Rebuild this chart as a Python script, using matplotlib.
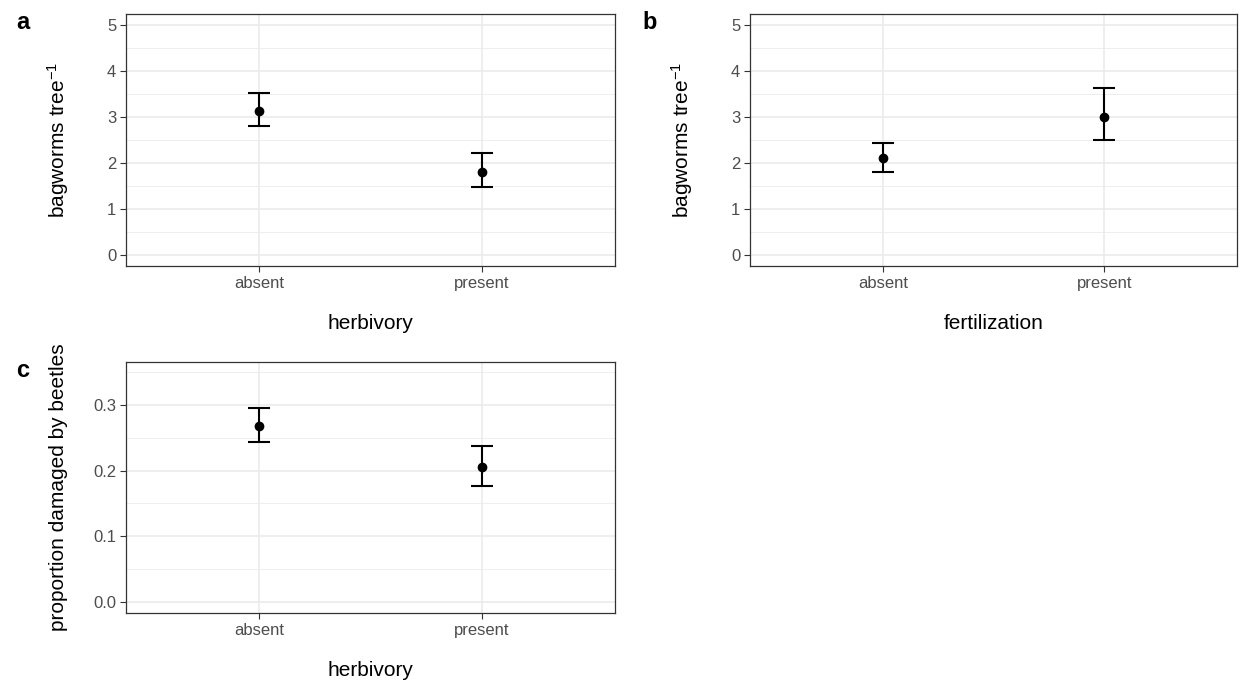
import numpy as np
import matplotlib.pyplot as plt
from matplotlib.ticker import MultipleLocator

plt.rcParams['font.family'] = ['Liberation Sans', 'DejaVu Sans']
plt.rcParams['mathtext.default'] = 'regular'

levels = ['absent', 'present']

# panel a: bagworms by herbivory
herb_mean = [3.14, 1.80]
herb_low = [2.81, 1.47]
herb_high = [3.52, 2.21]

# panel b: bagworms by fertilization
fert_mean = [2.10, 3.00]
fert_low = [1.81, 2.49]
fert_high = [2.43, 3.63]

# panel c: beetle damage by herbivory
beet_mean = [0.269, 0.206]
beet_low = [0.244, 0.177]
beet_high = [0.296, 0.238]


def panel(ax, mean, low, high, xlabel, ylabel, ylim, major, minor):
    x = np.arange(1, len(levels) + 1)
    mean = np.array(mean)
    err = [mean - np.array(low), np.array(high) - mean]
    ax.errorbar(x, mean, yerr=err, fmt='o', color='black', ms=6,
                elinewidth=1.5, capsize=8, capthick=1.5, zorder=3)
    ax.set_xlim(0.4, 2.6)
    ax.set_ylim(*ylim)
    ax.set_xticks(x)
    ax.set_xticklabels(levels)
    ax.yaxis.set_major_locator(MultipleLocator(major))
    ax.yaxis.set_minor_locator(MultipleLocator(minor))
    ax.grid(True, which='major', color='#EBEBEB', lw=1.2, zorder=0)
    ax.grid(True, which='minor', axis='y', color='#EBEBEB', lw=0.6, zorder=0)
    ax.tick_params(which='major', labelsize=12, labelcolor='#4D4D4D',
                   color='#333333', length=4, width=0.8, pad=3)
    ax.tick_params(which='minor', length=0)
    for s in ax.spines.values():
        s.set_color('#333333')
        s.set_linewidth(0.9)
    ax.set_axisbelow(True)
    ax.set_xlabel(xlabel, fontsize=15, labelpad=17)
    ax.set_ylabel(ylabel, fontsize=15, labelpad=26)


fig = plt.figure(figsize=(12.43, 6.85), dpi=100)
ax_a = fig.add_axes([0.1014, 0.6117, 0.3934, 0.3679])
ax_b = fig.add_axes([0.6034, 0.6117, 0.3918, 0.3679])
ax_c = fig.add_axes([0.1014, 0.1051, 0.3934, 0.3664])

bag_label = r'bagworms tree$^{-1}$'
panel(ax_a, herb_mean, herb_low, herb_high, 'herbivory', bag_label,
      (-0.25, 5.25), 1, 0.5)
panel(ax_b, fert_mean, fert_low, fert_high, 'fertilization', bag_label,
      (-0.25, 5.25), 1, 0.5)
panel(ax_c, beet_mean, beet_low, beet_high, 'herbivory',
      'proportion damaged by beetles', (-0.0175, 0.366), 0.1, 0.05)
ax_c.yaxis.set_major_formatter(plt.FormatStrFormatter('%.1f'))
ax_c.yaxis.labelpad = 18

fig.text(0.013, 0.967, 'a', fontsize=17, fontweight='bold', va='center')
fig.text(0.517, 0.967, 'b', fontsize=17, fontweight='bold', va='center')
fig.text(0.013, 0.459, 'c', fontsize=17, fontweight='bold', va='center')

fig.savefig('out.png', dpi=100, facecolor='white')
